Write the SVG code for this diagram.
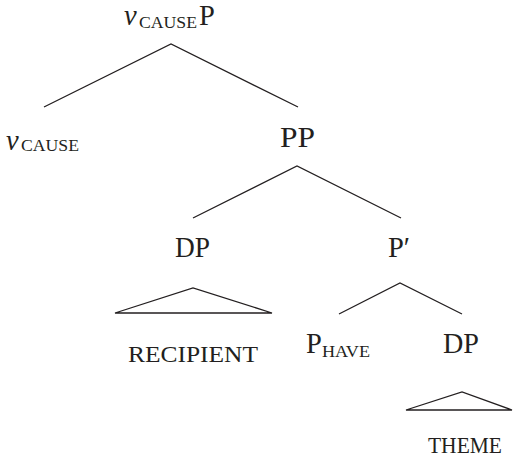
<svg xmlns="http://www.w3.org/2000/svg" width="513" height="462" viewBox="0 0 513 462">
  <style>
    .lbl { font-family: "Liberation Serif", "DejaVu Serif", serif; fill: #231f20; font-size: 28.5px; }
    .it { font-style: italic; }
    .sc { font-size: 16px; }
    .caps { font-size: 22.5px; }
    .edge { fill: none; stroke: #231f20; stroke-width: 1.3; stroke-linejoin: miter; }
  </style>
  <rect width="513" height="462" fill="#ffffff"/>

  <!-- branches and triangles -->
  <g id="connectors">
    <polyline class="edge" points="44,107 171,44 298,107"/>
    <polyline class="edge" points="193,218 297,166 401,218"/>
    <polyline class="edge" points="339,314 400,283 462,314"/>
    <polygon class="edge" points="115,313 193,288 272,313"/>
    <polygon class="edge" points="406,410 462,392 512,410"/>
  </g>

  <g id="vcauseP">
    <text class="lbl it" x="124" y="25" font-size="30">v</text>
    <text class="lbl sc" x="139" y="28" textLength="58" lengthAdjust="spacingAndGlyphs">CAUSE</text>
    <text class="lbl" x="199" y="25">P</text>
  </g>

  <g id="vcause">
    <text class="lbl it" x="6" y="150" font-size="30">v</text>
    <text class="lbl sc" x="21" y="151" textLength="58" lengthAdjust="spacingAndGlyphs">CAUSE</text>
  </g>

  <g id="PP">
    <text class="lbl" x="280" y="147" textLength="35" lengthAdjust="spacingAndGlyphs">PP</text>
  </g>

  <g id="DP1">
    <text class="lbl" x="175" y="257" textLength="35" lengthAdjust="spacingAndGlyphs">DP</text>
  </g>

  <g id="Pbar">
    <text class="lbl" x="388" y="257">P′</text>
  </g>

  <g id="recipient">
    <text class="lbl caps" x="128" y="362" textLength="130" lengthAdjust="spacingAndGlyphs">RECIPIENT</text>
  </g>

  <g id="Phave">
    <text class="lbl" x="306" y="353">P</text>
    <text class="lbl sc" x="322" y="357" textLength="48" lengthAdjust="spacingAndGlyphs">HAVE</text>
  </g>

  <g id="DP2">
    <text class="lbl" x="443" y="353" textLength="36" lengthAdjust="spacingAndGlyphs">DP</text>
  </g>

  <g id="theme">
    <text class="lbl caps" x="428" y="453" textLength="74" lengthAdjust="spacingAndGlyphs">THEME</text>
  </g>
</svg>
